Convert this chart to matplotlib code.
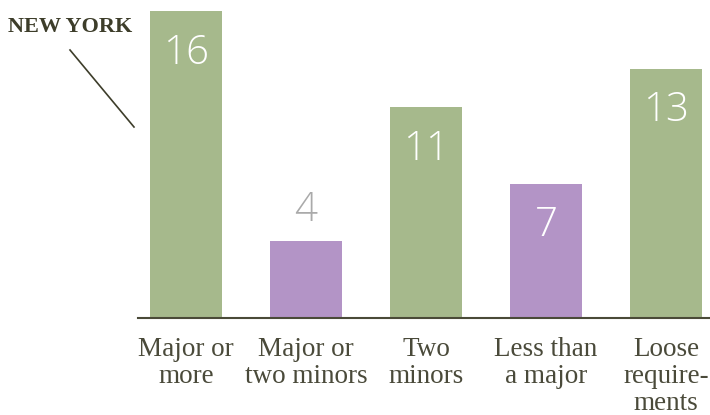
import matplotlib
matplotlib.use("Agg")
import matplotlib.pyplot as plt

categories = ["Major or\nmore", "Major or\ntwo minors", "Two\nminors", "Less than\na major", "Loose\nrequire-\nments"]
values = [16, 4, 11, 7, 13]
bar_colors = ["#a6b98c", "#b394c6", "#a6b98c", "#b394c6", "#a6b98c"]

W, H = 710, 415
fig = plt.figure(figsize=(W / 100, H / 100), dpi=100)
ax = fig.add_axes([138 / W, 97 / H, (710 - 138) / W, 307 / H])
x = list(range(len(values)))
ax.bar(x, values, width=0.6, color=bar_colors)
ax.set_xlim(-0.4, 4.3667)
ax.set_ylim(0, 16)
for s in ["top", "right", "left"]:
    ax.spines[s].set_visible(False)
ax.spines["bottom"].set_color("#4a4a38")
ax.spines["bottom"].set_linewidth(1.5)
ax.set_yticks([])
ax.set_xticks(x)
ax.set_xticklabels(categories, family="Liberation Serif", fontsize=19.5, color="#4a4a3a",
                   linespacing=1.1, va="top")
ax.tick_params(axis="x", length=0, pad=14)

for xi, v in zip(x, values):
    if v < 5:
        ax.text(xi, v + 1.6, str(v), ha="center", va="center", family="Open Sans",
                fontweight="light", fontsize=29, color="#aaaaaa")
    else:
        ax.text(xi, v - 2.2, str(v), ha="center", va="center", family="Open Sans",
                fontweight="light", fontsize=29, color="white")

fig.text(8 / W, 1 - 27 / H, "NEW YORK", family="Liberation Serif", fontweight="bold",
         fontsize=16, color="#3d3d2a", ha="left", va="center")
fig.add_artist(plt.Line2D([70 / W, 134 / W], [1 - 50 / H, 1 - 127 / H], color="#3d3d2a", lw=1.2))

fig.savefig("out.png", dpi=100, facecolor="white")
